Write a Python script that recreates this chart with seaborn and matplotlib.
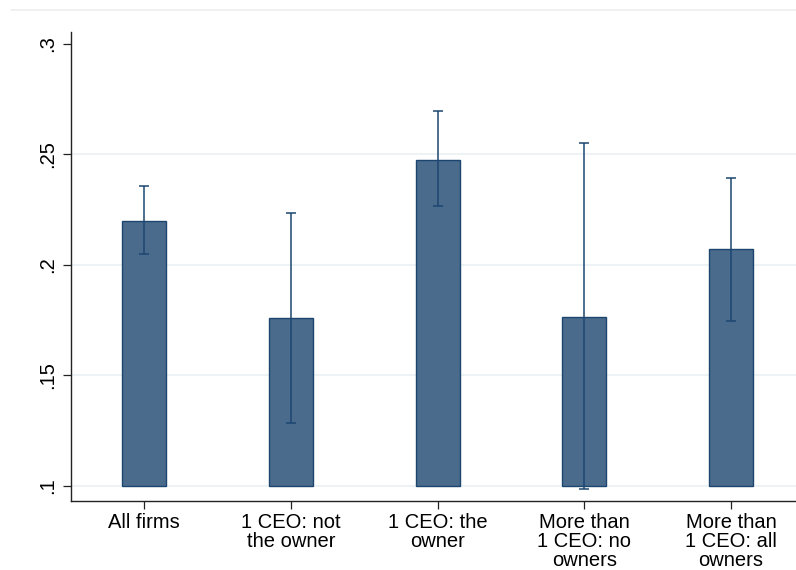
import numpy as np
import pandas as pd
import matplotlib
matplotlib.use("Agg")
import matplotlib.pyplot as plt
import seaborn as sns
from matplotlib.lines import Line2D

# Group labels and estimated shares with 95% confidence bounds
categories = [
    "All firms",
    "1 CEO: not\nthe owner",
    "1 CEO: the\nowner",
    "More than\n1 CEO: no\nowners",
    "More than\n1 CEO: all\nowners",
]
means = [0.2200, 0.1760, 0.2475, 0.1765, 0.2070]
ci_low = [0.2050, 0.1285, 0.2265, 0.0985, 0.1745]
ci_high = [0.2355, 0.2235, 0.2695, 0.2550, 0.2395]
y_ticks = [0.1, 0.15, 0.2, 0.25, 0.3]
y_tick_labels = [".1", ".15", ".2", ".25", ".3"]
bar_base = 0.1

BAR_FILL = "#4a6b8b"
BAR_EDGE = "#1c4670"
GRID = "#eaf1f3"

sns.set_style("ticks")
plt.rcParams["font.family"] = ["Liberation Sans", "DejaVu Sans"]

fig = plt.figure(figsize=(7.96, 5.70), dpi=100)
ax = fig.add_axes([71 / 796, 69 / 570, 733.3 / 796, 469 / 570])

df = pd.DataFrame({"group": categories, "share": means})
sns.barplot(
    data=df, x="group", y="share", order=categories, width=0.3,
    color=BAR_FILL, edgecolor=BAR_EDGE, linewidth=1.0, saturation=1,
    errorbar=None, ax=ax, zorder=2,
)
# bars rise from the axis base value rather than from zero
for patch in ax.patches:
    top = patch.get_y() + patch.get_height()
    patch.set_y(bar_base)
    patch.set_height(top - bar_base)

x = np.arange(len(categories))
m = np.array(means)
yerr = [m - np.array(ci_low), np.array(ci_high) - m]
ax.errorbar(x, m, yerr=yerr, fmt="none", ecolor=BAR_EDGE, elinewidth=1.1,
            capsize=3.6, capthick=1.1, zorder=3)

# horizontal guides at every tick except the top one
for v in y_ticks[:-1]:
    ax.axhline(v, color=GRID, lw=1.2, zorder=0)

ax.set_xlim(-0.5, len(categories) - 0.5)
ax.set_ylim(0.0932, 0.3054)
ax.set_yticks(y_ticks)
ax.set_yticklabels(y_tick_labels, rotation=90, va="center", fontsize=14.5)
ax.set_xticks(x)
ax.set_xticklabels(categories, fontsize=14.5, linespacing=1.0)
ax.set_xlabel("")
ax.set_ylabel("")

for side in ("top", "right"):
    ax.spines[side].set_visible(False)
for side in ("left", "bottom"):
    ax.spines[side].set_color("#222222")
    ax.spines[side].set_linewidth(1.0)
ax.tick_params(axis="both", length=5.8, width=0.9, color="#222222", labelcolor="black")
ax.tick_params(axis="y", pad=4)
ax.tick_params(axis="x", pad=2.5)

fig.add_artist(Line2D([11 / 796, 1.0], [1 - 10 / 570] * 2, transform=fig.transFigure,
                      color="#eeeeee", lw=1.2))

fig.savefig("out.png", dpi=100)
